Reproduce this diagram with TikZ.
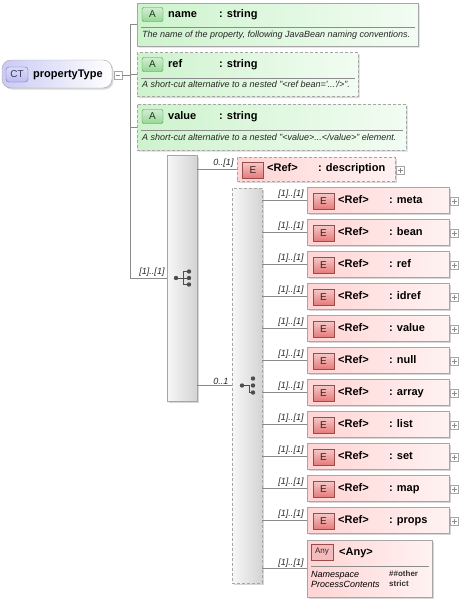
\documentclass[tikz,border=0pt]{standalone}
\usepackage{fontspec}
\setmainfont{Liberation Sans}
\usepackage{tikz}
\usetikzlibrary{shapes.misc,shadows}
\usetikzlibrary{positioning}

\definecolor{lineg}{HTML}{8A8A8A}
\definecolor{boxbd}{HTML}{A6A6A6}
\definecolor{ctfill}{HTML}{BDBDF2}
\definecolor{ctbd}{HTML}{6E6EB0}
\definecolor{agreen}{HTML}{CDF3CD}
\definecolor{afill}{HTML}{96D896}
\definecolor{abd}{HTML}{4E924E}
\definecolor{epink}{HTML}{FFD4D4}
\definecolor{efill}{HTML}{E67A7A}
\definecolor{ebd}{HTML}{9A4C4C}
\tikzset{
	hdr/.style={font=\fontsize{11}{12}\selectfont\bfseries,anchor=base west,inner sep=0pt},
	desc/.style={font=\fontsize{9}{10}\selectfont\itshape,anchor=base west,inner sep=0pt,text=black!85},
	mult/.style={font=\fontsize{9}{10}\selectfont\itshape,inner sep=1pt,text=black!85}
}

\begin{document}
\begin{tikzpicture}[x=1pt,y=-1pt]
  \useasboundingbox (0,0) rectangle (459,603);
  \tikzstyle{shad}=[drop shadow={shadow xshift=1.5pt,shadow yshift=-1.5pt,opacity=.35,fill=black!45}]
  \tikzstyle{conn}=[draw=lineg,line width=.6pt]
  \tikzstyle{sepline}=[draw=black!45,line width=.5pt]
  \tikzstyle{dsh}=[dash pattern=on 3pt off 2pt]
  \tikzstyle{ctnode}=[rectangle,rounded corners=9pt,draw=boxbd,left color=ctfill!80,right color=white,shad,minimum width=110pt,minimum height=28pt]
  \tikzstyle{attr}=[chamfered rectangle,chamfered rectangle corners={north west,south west},chamfered rectangle sep=3pt,draw=boxbd,left color=agreen,right color=agreen!25,shad,inner sep=0pt]
  \tikzstyle{attr_opt}=[attr,dsh]
  \tikzstyle{elem}=[rectangle,draw=boxbd,left color=epink,right color=epink!30,shad,inner sep=0pt]
  \tikzstyle{elem_opt}=[elem,dsh]
  \tikzstyle{grp}=[rectangle,draw=boxbd,left color=black!3,right color=black!17,shad,inner sep=0pt,minimum width=30pt]
  \tikzstyle{grp_opt}=[grp,dsh]
  \tikzstyle{badge_ct}=[rectangle,rounded corners=3pt,draw=ctbd,top color=ctfill!55,bottom color=ctfill,minimum width=22pt,minimum height=15pt,inner sep=0pt,font=\fontsize{10}{10}\selectfont,text=ctbd!50!black]
  \tikzstyle{badge_a}=[rectangle,rounded corners=2pt,draw=abd,top color=afill!45,bottom color=afill,minimum width=21pt,minimum height=14pt,inner sep=0pt,font=\fontsize{10}{10}\selectfont,text=abd!40!black]
  \tikzstyle{badge_e}=[rectangle,draw=ebd,top color=efill!40,bottom color=efill,minimum width=21pt,minimum height=16pt,inner sep=0pt,font=\fontsize{10}{10}\selectfont,text=ebd!40!black]
  \tikzstyle{badge_any}=[rectangle,draw=ebd,fill=efill!50,minimum width=22pt,minimum height=16pt,inner sep=0pt,font=\fontsize{8}{8}\selectfont,text=ebd!40!black]
  \tikzstyle{pm}=[rectangle,draw=boxbd,fill=white,minimum size=8pt,inner sep=0pt]
  \tikzstyle{icon}=[draw=black!70,line width=.7pt]

  \node (ptype) at (57,74) [ctnode] {};
  \node (ct) at (17,74.5) [badge_ct] {CT};
  \node (ptype_t) at (33,77) [hdr] {propertyType};
  \node (minus) at (118,75) [pm] {};
  \draw[lineg,line width=.5pt] (minus.west) ++(2,0) -- ++(4,0);
  \coordinate (bus) at (130,75);

  \node (attr_name) at (277.5,24.5) [attr,minimum width=281pt,minimum height=43pt] {};
  \node (ab_name) at (152.5,14.5) [badge_a] {A};
  \node (an_name) at (168,17) [hdr] {name};
  \node (at_name) at (219,17) [hdr] {: string};
  \draw[sepline] (141,27) -- (415,27);
  \node (ad_name) at (142,37) [desc] {The name of the property, following JavaBean naming conventions.};

  \node (attr_ref) at (247.5,74.5) [attr_opt,minimum width=221pt,minimum height=44pt] {};
  \node (ab_ref) at (152.5,64.5) [badge_a] {A};
  \node (an_ref) at (168,67) [hdr] {ref};
  \node (at_ref) at (219,67) [hdr] {: string};
  \draw[sepline] (141,78) -- (355,78);
  \node (ad_ref) at (142,87) [desc] {A short-cut alternative to a nested "<ref bean=\textquotesingle...\textquotesingle/>".};

  \node (attr_value) at (271.5,127) [attr_opt,minimum width=269pt,minimum height=46pt] {};
  \node (ab_value) at (152.5,116.5) [badge_a] {A};
  \node (an_value) at (168,119.5) [hdr] {value};
  \node (at_value) at (219,119.5) [hdr] {: string};
  \draw[sepline] (141,130) -- (403,130);
  \node (ad_value) at (142,140) [desc] {A short-cut alternative to a nested "<value>...</value>" element.};

  \node (seq) at (182,278) [grp,minimum height=246pt] {};
  \draw[icon,shift={(seq.center)}] (-6,0) -- (1,0) (1,-6.5) -- (1,6.5) (1,-6.5) -- (7,-6.5) (1,6.5) -- (7,6.5) (1,0) -- (7,0);
  \fill[black!70,shift={(seq.center)}] (-6,0) circle (2.2) (7,-6.5) circle (2.2) (7,0) circle (2.2) (7,6.5) circle (2.2);

  \draw[conn] (minus.east) -- (bus);
  \draw[conn] (attr_name.west) -| (bus);
  \draw[conn] (bus) |- node[mult,pos=1,above left,xshift=-1pt]{[1]..[1]} (seq.west);
  \draw[conn] (attr_ref.west) -- (attr_ref.west -| bus);
  \draw[conn] (attr_value.west) -- (attr_value.west -| bus);

  \node (descr) at (316,169) [elem_opt,minimum width=158pt,minimum height=24pt] {};
  \node (descr_b) at (253,170) [badge_e] {E};
  \node (descr_r) at (267,171.5) [hdr] {<Ref>};
  \node (descr_n) at (318,171.5) [hdr] {: description};
  \node (descr_p) at (400,170) [pm] {};
  \draw[lineg,line width=.5pt] (descr_p.center) ++(-2.5,0) -- ++(5,0) (descr_p.center) ++(0,-2.5) -- ++(0,5);
  \draw[conn] (seq.east |- descr.west) -- node[mult,pos=1,above left,xshift=-2pt]{0..[1]} (descr.west);

  \node (choice) at (247,385.5) [grp_opt,minimum height=395pt] {};
  \draw[conn] (seq.east |- choice.west) -- node[mult,pos=1,above left,xshift=-2pt]{0..1} (choice.west);
  \draw[icon,shift={(choice.center)}] (-5,0) -- (2,0) -- (2,7) -- (6,7);
  \fill[black!70,shift={(choice.center)}] (-5,0) circle (2.2) (6,-7) circle (2.2) (6,0) circle (2.2) (6,7) circle (2.2);

  \foreach \nm [count=\i from 0] in {meta,bean,ref,idref,value,null,array,list,set,map,props}{
    \pgfmathsetmacro{\yy}{200+32*\i}
    \node (e\i) at (378,\yy) [elem,minimum width=142pt,minimum height=26pt] {};
    \node (eb\i) at (323.5,\yy+1) [badge_e] {E};
    \node (er\i) at (338,\yy+3.5) [hdr] {<Ref>};
    \node (en\i) at (389,\yy+3.5) [hdr] {: \nm};
    \node (ep\i) at (454.5,\yy+1) [pm] {};
    \draw[lineg,line width=.5pt] (ep\i.center) ++(-2.5,0) -- ++(5,0) (ep\i.center) ++(0,-2.5) -- ++(0,5);
    \draw[conn] (choice.east |- e\i.west) -- node[mult,pos=1,above left,xshift=-2pt]{[1]..[1]} (e\i.west);
  }

  \node (any) at (369.5,568.5) [elem,minimum width=125pt,minimum height=57pt] {};
  \node (any_b) at (322,552) [badge_any] {Any};
  \node (any_t) at (339,555) [hdr] {<Any>};
  \draw[sepline] (311,566) -- (429,566);
  \node (any_ns) at (311,577) [desc,text=black] {Namespace};
  \node (any_pc) at (311,587) [desc,text=black] {ProcessContents};
  \node (any_nv) at (389,576) [desc,font=\fontsize{8}{9}\selectfont\bfseries,text=black!80] {\#\#other};
  \node (any_pv) at (389,586) [desc,font=\fontsize{8}{9}\selectfont\bfseries,text=black!80] {strict};
  \draw[conn] (choice.east |- any.west) -- node[mult,pos=1,above left,xshift=-2pt]{[1]..[1]} (any.west);
\end{tikzpicture}
\end{document}
